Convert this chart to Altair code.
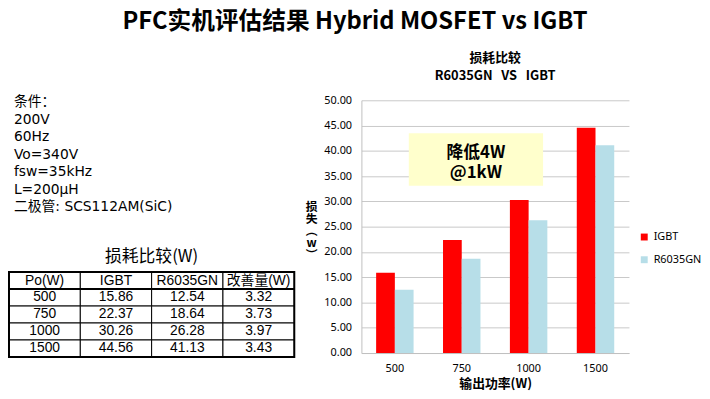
import altair as alt
import pandas as pd

CJK = "Noto Sans CJK SC"

# ---- data ----
power = ["500", "750", "1000", "1500"]
igbt = [15.86, 22.37, 30.26, 44.56]
r6035 = [12.54, 18.64, 26.28, 41.13]
improve = [3.32, 3.73, 3.97, 3.43]
series = ["IGBT", "R6035GN"]
colors = ["#ff0000", "#b7dee8"]
y_ticks = [0, 5, 10, 15, 20, 25, 30, 35, 40, 45, 50]
table_header = ["Po(W)", "IGBT", "R6035GN", "改善量(W)"]
cond_lines = ["条件：", "\u00a0200V", "\u00a060Hz", "\u00a0Vo=340V", "\u00a0fsw=35kHz",
              "\u00a0L=200μH", "\u00a0二极管: SCS112AM(SiC)"]
note_lines = ["降低4W", "@1kW"]

# ---- tables built from the lists ----
bar_df = pd.DataFrame(
    [{"power": p, "series": "IGBT", "loss": v} for p, v in zip(power, igbt)]
    + [{"power": p, "series": "R6035GN", "loss": v} for p, v in zip(power, r6035)]
)

rows = [table_header] + [
    [p, f"{a:.2f}", f"{b:.2f}", f"{c:.2f}"] for p, a, b, c in zip(power, igbt, r6035, improve)
]
table_df = pd.DataFrame(
    [{"row": r, "col": c, "text": t} for r, row in enumerate(rows) for c, t in enumerate(row)]
)
cond_df = pd.DataFrame({"i": list(range(len(cond_lines))), "line": cond_lines})

TW, TH = 289, 86

# ---- left: conditions ----
cond = alt.Chart(cond_df).mark_text(
    align="left", baseline="middle", fontSize=14, font="DejaVu Sans, " + CJK, color="black"
).encode(
    x=alt.value(5),
    y=alt.Y("i:O", axis=None, scale=alt.Scale(range=[-7, 117], paddingInner=0, paddingOuter=0)),
    text="line:N",
).properties(width=TW, height=117)

# ---- left: table ----
tbase = alt.Chart(table_df).encode(
    x=alt.X("col:O", axis=None, scale=alt.Scale(paddingInner=0, paddingOuter=0)),
    y=alt.Y("row:O", axis=None, scale=alt.Scale(paddingInner=0, paddingOuter=0)),
)
cells = tbase.mark_rect(fill="white", stroke="black", strokeWidth=1)
ttext = tbase.mark_text(fontSize=14, font="Liberation Sans, " + CJK, color="black").encode(text="text:N")
head_line = alt.Chart(alt.Data(values=[{"row": 0}])).mark_rule(color="black", strokeWidth=2).encode(
    x=alt.value(0), x2=alt.value(TW), y=alt.Y("row:O", bandPosition=1, axis=None)
)
frame = alt.Chart(alt.Data(values=[{}])).mark_rect(fill=None, stroke="black", strokeWidth=2).encode(
    x=alt.value(0), x2=alt.value(TW), y=alt.value(0), y2=alt.value(TH)
)
table = alt.layer(cells, ttext, head_line, frame).properties(
    width=TW, height=TH,
    title=alt.Title("损耗比较(W)", fontSize=17, fontWeight="normal", font=CJK, offset=5, anchor="middle"),
)

left = alt.vconcat(cond, table, spacing=33)

# ---- right: bar chart ----
yaxis = alt.Axis(values=y_ticks, format=".2f", title=["损", "失", "︵", "w", "︶"],
                 titleAngle=0, titleX=-51, titleY=108, titleAlign="center",
                 titleBaseline="middle", titleFontSize=12, titleFontWeight="bold",
                 titleFont=CJK, titleLineHeight=12, titleColor="black",
                 labelFontSize=11, labelFont="Noto Sans", labelColor="black",
                 labelPadding=10, ticks=False, tickSize=0, domainColor="#bfbfbf",
                 gridColor="#c8c8c8", labelOverlap=False)
yscale = alt.Scale(domain=[0, 50], nice=False)

bars = alt.Chart(bar_df).mark_bar().encode(
    x=alt.X("power:N", sort=power,
            scale=alt.Scale(paddingInner=0.44, paddingOuter=0.22),
            axis=alt.Axis(title="输出功率(W)", labelAngle=0, labelFontSize=11, labelFont="Noto Sans",
                          labelColor="black", labelPadding=10, ticks=False, tickSize=0,
                          domainColor="#bfbfbf", titleFontSize=13, titleFontWeight="bold",
                          titleFont=CJK, titlePadding=4, titleColor="black")),
    xOffset=alt.XOffset("series:N", sort=series, scale=alt.Scale(paddingInner=0, paddingOuter=0)),
    y=alt.Y("loss:Q", scale=yscale, axis=yaxis),
    color=alt.Color("series:N", sort=series, scale=alt.Scale(domain=series, range=colors),
                    legend=alt.Legend(title=None, orient="none", legendX=638, legendY=133,
                                      symbolType="square", symbolSize=49, symbolStrokeWidth=0,
                                      labelFontSize=11, labelFont="Noto Sans", labelColor="black",
                                      rowPadding=11, padding=0)),
)

note_box = alt.Chart(alt.Data(values=[{}])).mark_rect(color="#ffffcc").encode(
    x=alt.value(48), x2=alt.value(184),
    y=alt.YDatum(43.5, axis=yaxis, scale=yscale), y2=alt.Y2Datum(33.1)
)
note_text = alt.Chart(alt.Data(values=[{}])).mark_text(
    text=note_lines, fontSize=17, fontWeight="bold", font=CJK, lineHeight=20,
    baseline="middle", align="center", color="black"
).encode(x=alt.value(116), y=alt.YDatum(39.5, axis=yaxis, scale=yscale))

right = alt.layer(bars, note_box, note_text).properties(
    width=271, height=256,
    title=alt.Title(["损耗比较", "R6035GN\u00a0\u00a0\u00a0VS\u00a0\u00a0\u00a0IGBT"], fontSize=13,
                    fontWeight="bold", font=CJK, lineHeight=18, offset=12, anchor="middle"),
)

chart = alt.hconcat(left, right, spacing=9).properties(
    title=alt.Title("PFC实机评估结果 Hybrid MOSFET vs IGBT", fontSize=24, fontWeight="bold",
                    font=CJK, anchor="middle", offset=18),
    padding=0,
).configure_view(stroke=None)

chart.save("out.html", embed_options={"renderer": "svg", "actions": False})
